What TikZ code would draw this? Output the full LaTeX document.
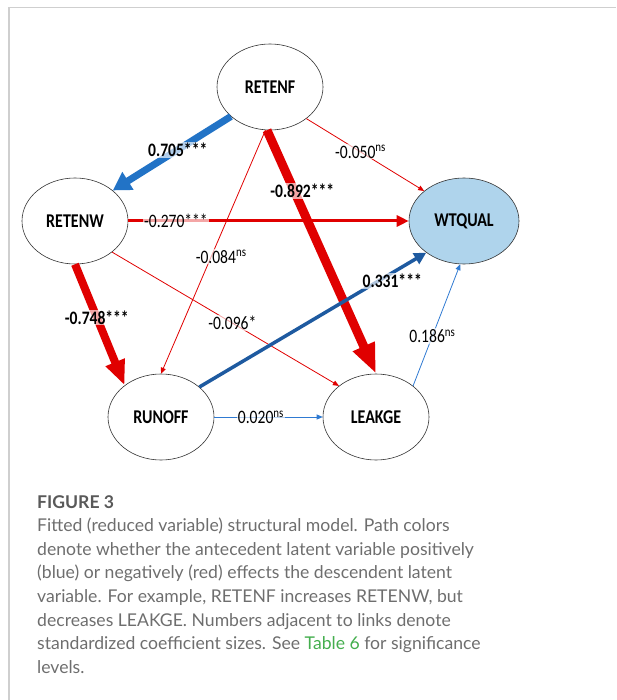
\documentclass[tikz,border=0pt]{standalone}
\usepackage{xcolor}
\usepackage{fontspec}
\usepackage{tikz}
\usetikzlibrary{shapes,arrows.meta,positioning}
\setmainfont{Lato}
\newfontfamily\diagfont[FakeStretch=0.82]{Carlito}
\definecolor{pathred}{HTML}{E00000}
\definecolor{pathblue}{HTML}{2273C6}
\definecolor{pathdarkblue}{HTML}{1E5AA0}
\definecolor{thinblue}{HTML}{2F7AD2}
\definecolor{wtfill}{HTML}{AFD4EC}
\definecolor{framegray}{HTML}{CFCFCF}
\definecolor{captiongray}{HTML}{6E6E6E}
\definecolor{headgray}{HTML}{595959}
\definecolor{tablegreen}{HTML}{44AE4E}

\begin{document}
\begin{tikzpicture}[x=1pt, y=-1pt, on grid]
        % Define styles
        \tikzstyle{latent} = [ellipse, draw=black!80, line width=0.6pt, minimum width=106pt, minimum height=86pt, inner sep=0pt, text centered, font=\diagfont\fontsize{19.5}{21}\selectfont\bfseries]
        \tikzstyle{negline} = [draw=pathred]
        \tikzstyle{posline} = [draw=thinblue]
        \tikzstyle{smalltip} = [-{Triangle[length=6pt, width=5pt]}]
        \tikzstyle{coef} = [fill=white, fill opacity=0.65, text opacity=1, inner sep=1pt, font=\diagfont\fontsize{19}{21}\selectfont]
        \tikzstyle{boldcoef} = [coef, font=\diagfont\fontsize{19}{21}\selectfont\bfseries]

        \useasboundingbox (0,0) rectangle (616,700);
        \draw[framegray, line width=1.5pt] (9,700) -- (9,7.5) -- (616,7.5);

        % Latent variables
        \node (retenf) [latent] at (270,87) {RETENF};
        \node (retenw) [latent, below left=134pt and 195pt of retenf] {RETENW};
        \node (wtqual) [latent, fill=wtfill, minimum width=110pt, below right=134pt and 194pt of retenf] {WTQUAL};
        \node (runoff) [latent, below right=196pt and 86pt of retenw] {RUNOFF};
        \node (leakge) [latent, right=215pt of runoff] {LEAKGE};

        % Paths from RETENF
        \draw[draw=pathblue, line width=7pt, -{Triangle[length=18pt, width=20pt]}] (retenf.217) -- node[boldcoef, pos=0.45] {0.705***} (retenw.39);
        \draw[negline, line width=0.8pt, smalltip] (retenf.319) -- node[coef, pos=0.46] {-0.050\textsuperscript{ns}} (wtqual.143);
        \draw[negline, line width=9pt, -{Triangle[length=30pt, width=22pt]}] (retenf.266) -- node[boldcoef, pos=0.25, xshift=8pt] {-0.892***} (leakge.north);
        \draw[negline, line width=0.8pt, smalltip] (retenf.264) -- node[coef, pos=0.52, xshift=10pt] {-0.084\textsuperscript{ns}} (runoff.north);

        % Paths from RETENW
        \draw[negline, line width=3pt, -{Triangle[length=12pt, width=11pt]}] (retenw.east) -- node[coef, pos=0.17] {-0.270***} (wtqual.west);
        \draw[negline, line width=8pt, -{Triangle[length=25pt, width=19pt]}] (retenw.south) -- node[boldcoef, pos=0.44] {-0.748***} (runoff.139);
        \draw[negline, line width=0.8pt, smalltip] (retenw.320) -- node[coef, pos=0.53] {-0.096*} (leakge.140);

        % Paths into WTQUAL and LEAKGE
        \draw[draw=pathdarkblue, line width=3.5pt, -{Triangle[length=12pt, width=12pt]}] (runoff.38) -- node[boldcoef, pos=0.85, yshift=-8pt] {0.331***} (wtqual.220);
        \draw[posline, line width=0.8pt, smalltip] (leakge.40) -- node[coef, pos=0.41] {0.186\textsuperscript{ns}} (wtqual.265);
        \draw[posline, line width=0.8pt, smalltip] (runoff.east) -- node[coef, pos=0.43] {0.020\textsuperscript{ns}} (leakge.west);

        % Caption
        \node (caption) [anchor=north west, align=left, inner sep=0pt, text=captiongray, font=\fontsize{17.6}{23.6}\selectfont] at (37,495) {{\color{headgray}\bfseries FIGURE 3}\\
Fitted (reduced variable) structural model. Path colors\\
denote whether the antecedent latent variable positively\\
(blue) or negatively (red) effects the descendent latent\\
variable. For example, RETENF increases RETENW, but\\
decreases LEAKGE. Numbers adjacent to links denote\\
standardized coefficient sizes. See \textcolor{tablegreen}{Table 6} for significance\\
levels.};

    \end{tikzpicture}
\end{document}
